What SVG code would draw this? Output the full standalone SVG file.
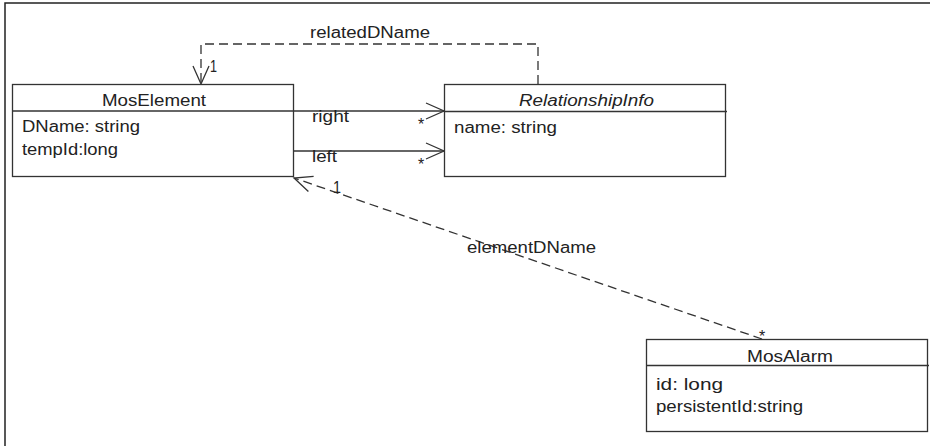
<svg xmlns="http://www.w3.org/2000/svg" width="930" height="446" viewBox="0 0 930 446">
<style>
.box{fill:#fff;stroke:#333;stroke-width:1.3}
.sep{stroke:#333;stroke-width:1.3}
.t{font-family:"Liberation Sans",Arial,sans-serif;font-size:16px;fill:#222}
.it{font-style:italic}
.c{stroke:#333;stroke-width:1.3;fill:none}
.d{stroke-dasharray:9,5}
</style>
<defs>
<marker id="open" markerUnits="userSpaceOnUse" markerWidth="40" markerHeight="40" refX="20" refY="20" orient="auto" viewBox="0 0 40 40">
<path d="M2,12 L20,20 L2,28" fill="none" stroke="#333" stroke-width="1.3"/>
</marker>
</defs>
<rect x="5" y="3" width="960" height="480" fill="#fff" stroke="#222" stroke-width="1.5"/>
<g id="connectors">
<g id="c-related">
<path class="c d" d="M538,84 V44 H201 V84" marker-end="url(#open)"/>
<text class="t" x="310" y="38" textLength="120" lengthAdjust="spacingAndGlyphs">relatedDName</text>
<text class="t" x="210" y="72" textLength="7" lengthAdjust="spacingAndGlyphs">1</text>
</g>
<g id="c-right">
<path class="c" d="M293,111 H444" marker-end="url(#open)"/>
<text class="t" x="312" y="122" textLength="37" lengthAdjust="spacingAndGlyphs">right</text>
<text class="t" x="418" y="130">*</text>
</g>
<g id="c-left">
<path class="c" d="M293,151 H444" marker-end="url(#open)"/>
<text class="t" x="312" y="162" textLength="25" lengthAdjust="spacingAndGlyphs">left</text>
<text class="t" x="418" y="170">*</text>
</g>
<g id="c-element">
<path class="c d" d="M762,339 L294,178" marker-end="url(#open)"/>
<text class="t" x="467" y="253" textLength="129" lengthAdjust="spacingAndGlyphs">elementDName</text>
<text class="t" x="333" y="193" textLength="8" lengthAdjust="spacingAndGlyphs">1</text>
<text class="t" x="759" y="342">*</text>
</g>
</g>
<g id="MosElement">
<rect class="box" x="12.5" y="84.5" width="281" height="92"/>
<line class="sep" x1="12.5" y1="111" x2="293.5" y2="111"/>
<text class="t" x="102" y="106" textLength="104" lengthAdjust="spacingAndGlyphs">MosElement</text>
<text class="t" x="22" y="132" textLength="118" lengthAdjust="spacingAndGlyphs">DName: string</text>
<text class="t" x="22" y="155" textLength="96" lengthAdjust="spacingAndGlyphs">tempId:long</text>
</g>
<g id="RelationshipInfo">
<rect class="box" x="444.5" y="84.5" width="281" height="92"/>
<line class="sep" x1="444.5" y1="111.5" x2="727" y2="111.5"/>
<text class="t it" x="519" y="106" textLength="135" lengthAdjust="spacingAndGlyphs">RelationshipInfo</text>
<text class="t" x="454" y="133" textLength="103" lengthAdjust="spacingAndGlyphs">name: string</text>
</g>
<g id="MosAlarm">
<rect class="box" x="646.5" y="339.5" width="281" height="92"/>
<line class="sep" x1="646.5" y1="365.5" x2="929" y2="365.5"/>
<text class="t" x="747" y="361.5" textLength="86" lengthAdjust="spacingAndGlyphs">MosAlarm</text>
<text class="t" x="656" y="390" textLength="67" lengthAdjust="spacingAndGlyphs">id: long</text>
<text class="t" x="656" y="411.5" textLength="147" lengthAdjust="spacingAndGlyphs">persistentId:string</text>
</g>
</svg>
